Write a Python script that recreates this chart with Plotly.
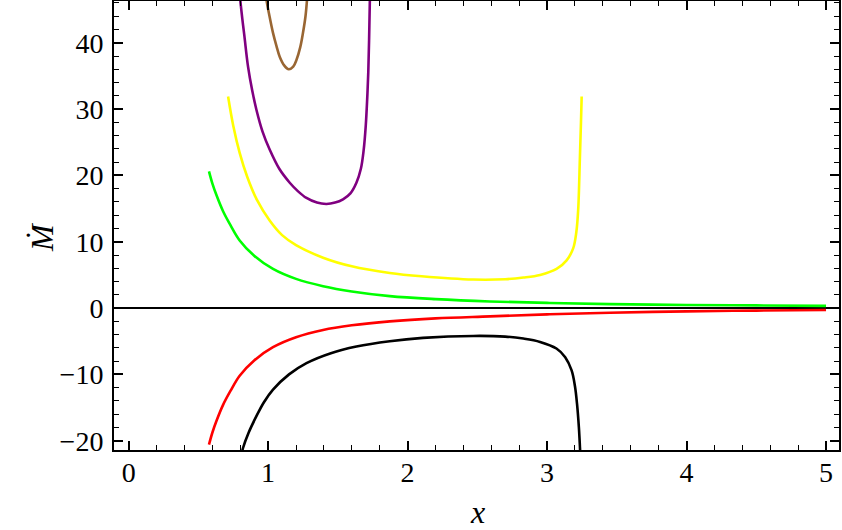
import plotly.graph_objects as go

# values
black_x = [0.80, 0.82, 0.86, 0.916, 0.97, 1.035, 1.15, 1.275, 1.45, 1.633, 1.872, 2.11, 2.47, 2.7, 2.83, 2.95, 3.067, 3.13, 3.176, 3.2, 3.215, 3.228, 3.236, 3.24]
black_y = [-23.0, -21.1, -18.8, -16.3, -14.2, -12.3, -10.0, -8.3, -6.8, -5.8, -5.0, -4.5, -4.2, -4.3, -4.6, -5.1, -6.1, -7.4, -9.4, -11.8, -14.5, -18.0, -21.1, -23.0]

red_x = [0.576, 0.6, 0.63, 0.677, 0.73, 0.796, 0.9, 1.035, 1.2, 1.394, 1.6, 1.872, 2.2, 2.59, 3.0, 3.45, 4.0, 4.5, 5.0]
red_y = [-20.6, -18.8, -17.0, -14.6, -12.5, -10.2, -7.9, -5.9, -4.4, -3.3, -2.6, -2.0, -1.55, -1.25, -0.95, -0.7, -0.5, -0.38, -0.3]

green_x = [0.576, 0.6, 0.63, 0.677, 0.73, 0.796, 0.9, 1.035, 1.2, 1.394, 1.6, 1.872, 2.2, 2.59, 3.0, 3.45, 4.0, 4.5, 5.0]
green_y = [20.6, 18.8, 17.0, 14.6, 12.5, 10.2, 7.9, 5.9, 4.4, 3.3, 2.5, 1.8, 1.35, 1.0, 0.78, 0.6, 0.47, 0.4, 0.33]

yellow_x = [0.713, 0.75, 0.796, 0.85, 0.92, 1.011, 1.1, 1.2, 1.394, 1.6, 1.872, 2.1, 2.47, 2.7, 2.83, 2.95, 3.068, 3.14, 3.187, 3.21, 3.223, 3.235, 3.243, 3.248]
yellow_y = [31.9, 27.5, 23.4, 19.8, 16.3, 13.2, 11.0, 9.5, 7.6, 6.3, 5.3, 4.8, 4.3, 4.35, 4.6, 5.0, 5.9, 7.2, 9.0, 11.5, 14.8, 22.4, 28.0, 31.9]

purple_x = [0.795, 0.80, 0.815, 0.83, 0.856, 0.886, 0.916, 0.96, 1.011, 1.08, 1.155, 1.215, 1.275, 1.35, 1.418, 1.48, 1.537, 1.59, 1.633, 1.665, 1.685, 1.7, 1.71, 1.718, 1.724, 1.729, 1.732]
purple_y = [47.5, 46.5, 43.6, 41.0, 36.4, 32.8, 29.9, 26.6, 23.9, 21.0, 18.9, 17.6, 16.6, 15.9, 15.7, 15.9, 16.4, 17.3, 18.9, 21.0, 23.8, 27.5, 31.4, 35.5, 40.5, 46.0, 48.0]

brown_x = [0.985, 0.988, 1.01, 1.035, 1.06, 1.083, 1.115, 1.148, 1.18, 1.203, 1.23, 1.25, 1.268, 1.279, 1.283]
brown_y = [47.5, 46.5, 44.0, 41.5, 39.5, 37.9, 36.6, 36.0, 36.4, 37.4, 39.3, 41.5, 44.0, 46.5, 47.5]

curves = [
    (black_x, black_y, "black"),
    (red_x, red_y, "#ff0000"),
    (green_x, green_y, "#00ff00"),
    (yellow_x, yellow_y, "#ffff00"),
    (purple_x, purple_y, "#800080"),
    (brown_x, brown_y, "#996633"),
]

fig = go.Figure()
for cx, cy, col in curves:
    fig.add_trace(go.Scatter(x=cx, y=cy, mode="lines",
                             line=dict(color=col, width=2.6, shape="spline", smoothing=1.0)))

serif = "Liberation Serif"

fig.update_layout(
    width=842, height=530, showlegend=False,
    font=dict(family=serif, size=28, color="black"),
    plot_bgcolor="white", paper_bgcolor="white",
    margin=dict(l=114, r=3, t=1, b=80),
    xaxis=dict(range=[-0.105, 5.093], dtick=1, tick0=0, zeroline=False,
               showline=True, linecolor="black", linewidth=2, mirror="allticks",
               ticks="inside", ticklen=9, tickwidth=1.6, tickcolor="black",
               showgrid=False, automargin=False, ticklabelstandoff=-4,
               tickfont=dict(family=serif, size=28, color="black"),
               minor=dict(dtick=0.2, ticks="inside", ticklen=5, tickwidth=1.4,
                          tickcolor="black", showgrid=False)),
    yaxis=dict(range=[-21.4, 46.3], dtick=10, tick0=0, zeroline=True,
               zerolinecolor="black", zerolinewidth=1.6, ticklabelstandoff=3,
               showline=True, linecolor="black", linewidth=2, mirror="allticks",
               ticks="inside", ticklen=9, tickwidth=1.6, tickcolor="black",
               showgrid=False, automargin=False,
               tickfont=dict(family=serif, size=28, color="black"),
               minor=dict(dtick=2, ticks="inside", ticklen=5, tickwidth=1.4,
                          tickcolor="black", showgrid=False)),
)

fig.add_annotation(text="<i>x</i>", xref="paper", yref="paper",
                   x=(477 - 114) / (839 - 114), y=-(512 - 450) / 449,
                   xanchor="center", yanchor="middle",
                   showarrow=False, font=dict(family=serif, size=32, color="black"))
fig.add_annotation(text="<i>Ṁ</i>", xref="paper", yref="paper", textangle=-90,
                   x=-(114 - 42) / (839 - 114), y=(450 - 237) / 449,
                   xanchor="center", yanchor="middle",
                   showarrow=False, font=dict(family=serif, size=32, color="black"))

fig.write_html("out.html", config={"displayModeBar": False},
               post_script="document.body.style.margin = '0';")
